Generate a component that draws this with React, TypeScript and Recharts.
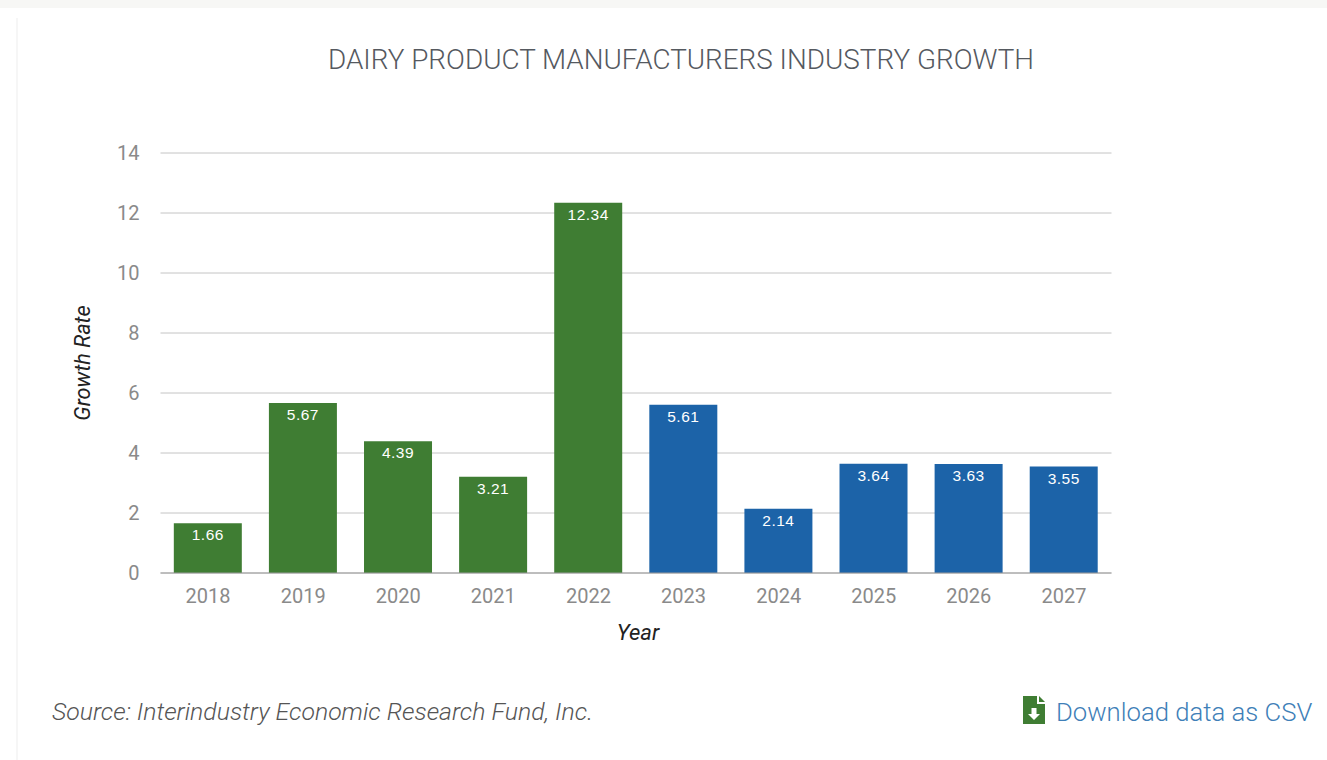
import React from "react";
import { BarChart, Bar, XAxis, YAxis, CartesianGrid, Cell, LabelList } from "recharts";

const years = ["2018", "2019", "2020", "2021", "2022", "2023", "2024", "2025", "2026", "2027"];
const growthRates = [1.66, 5.67, 4.39, 3.21, 12.34, 5.61, 2.14, 3.64, 3.63, 3.55];
const yTicks = [0, 2, 4, 6, 8, 10, 12, 14];
const firstForecastYear = "2023";

const HISTORIC = "#3f7d33";
const FORECAST = "#1c63a8";
const TICK = "#8a8a8a";

const rows = years.map((year, i) => ({ year, growth: growthRates[i] }));

export default function App() {
  return (
    <div style={{ position: "absolute", left: 0, top: 0, width: 1327, height: 760, background: "#fff", overflow: "hidden" }}>
      {/* page furniture around the card */}
      <div style={{ position: "absolute", left: 0, top: 0, width: 1327, height: 8, background: "#f7f7f5" }} />
      <div style={{ position: "absolute", left: 16, top: 18, width: 2, height: 742, background: "#f6f6f6" }} />

      <div
        style={{
          position: "absolute",
          left: 0,
          top: 42,
          width: 1362,
          textAlign: "center",
          fontFamily: "Roboto, sans-serif",
          fontWeight: 300,
          fontSize: 27.85,
          lineHeight: "36px",
          color: "#55595f",
        }}
      >
        DAIRY PRODUCT MANUFACTURERS INDUSTRY GROWTH
      </div>

      <BarChart
        width={1327}
        height={760}
        data={rows}
        margin={{ top: 153, right: 215.5, bottom: 117, left: 100.5 }}
        barCategoryGap="14%"
        style={{ position: "absolute", left: 0, top: 0 }}
      >
        <CartesianGrid vertical={false} stroke="#c4c4c4" strokeWidth={1} />
        <XAxis
          dataKey="year"
          stroke="#9a9a9a"
          tickLine={false}
          tickMargin={10}
          height={70}
          tick={{ fill: TICK, fontFamily: "Roboto, sans-serif", fontSize: 20 }}
          label={{
            value: "Year",
            position: "insideBottom",
            offset: 3,
            dx: 2,
            style: { fill: "#222", fontFamily: "Roboto, sans-serif", fontStyle: "italic", fontSize: 22 },
          }}
        />
        <YAxis
          domain={[0, 14]}
          ticks={yTicks}
          width={60}
          axisLine={false}
          tickLine={false}
          tickMargin={15}
          tick={{ fill: TICK, fontFamily: "Roboto, sans-serif", fontSize: 20 }}
          label={{
            value: "Growth Rate",
            angle: -90,
            position: "insideLeft",
            offset: -18,
            style: { textAnchor: "middle", fill: "#222", fontFamily: "Roboto, sans-serif", fontStyle: "italic", fontSize: 21.7 },
          }}
        />
        <Bar dataKey="growth" isAnimationActive={false}>
          {rows.map((row) => (
            <Cell key={row.year} fill={row.year >= firstForecastYear ? FORECAST : HISTORIC} />
          ))}
          <LabelList
            dataKey="growth"
            position="insideTop"
            offset={6}
            formatter={(v: number) => v.toFixed(2)}
            style={{ fill: "#fff", fontFamily: "'Liberation Sans', sans-serif", fontSize: 15.5, letterSpacing: 0.5 }}
          />
        </Bar>
      </BarChart>

      <div
        style={{
          position: "absolute",
          left: 52,
          top: 696,
          fontFamily: "Roboto, sans-serif",
          fontWeight: 300,
          fontStyle: "italic",
          fontSize: 24.8,
          lineHeight: "32px",
          color: "#555",
          whiteSpace: "nowrap",
        }}
      >
        Source: Interindustry Economic Research Fund, Inc.
      </div>

      {/* download link with its file icon */}
      <svg style={{ position: "absolute", left: 1023, top: 696 }} width={23} height={29} viewBox="0 0 23 29">
        <path d="M0 0H14V8H22V28H0Z" fill={HISTORIC} />
        <path d="M16 0L22 6H16Z" fill={HISTORIC} />
        <path d="M8.5 12H13.5V18H17L11 24L5 18H8.5Z" fill="#fff" />
      </svg>
      <div
        style={{
          position: "absolute",
          left: 1056,
          top: 696,
          fontFamily: "Roboto, sans-serif",
          fontWeight: 300,
          fontSize: 25.7,
          lineHeight: "32px",
          color: "#3f7fb8",
          whiteSpace: "nowrap",
        }}
      >
        Download data as CSV
      </div>
    </div>
  );
}
